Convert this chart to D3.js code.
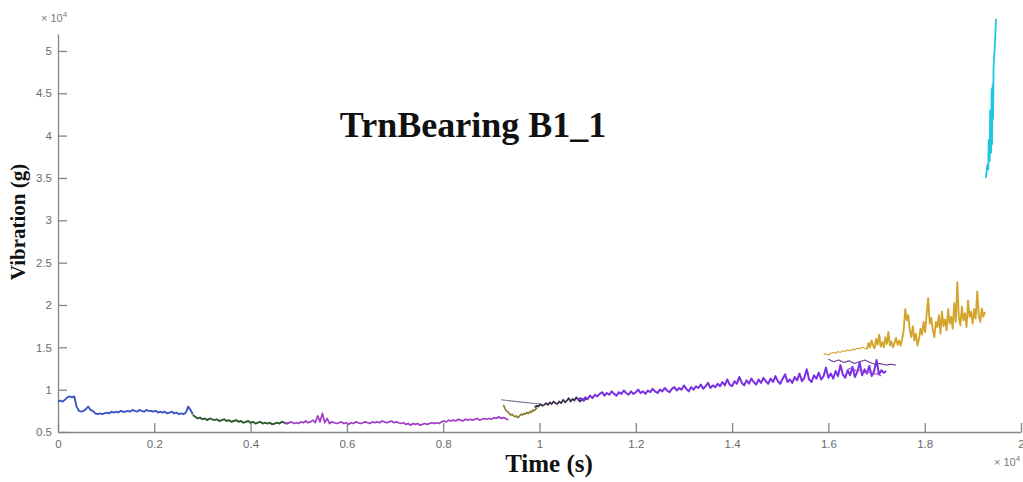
<!DOCTYPE html>
<html>
<head>
<meta charset="utf-8">
<script src="https://cdn.jsdelivr.net/npm/d3@7"></script>
<style>
  body { margin: 0; background: #fff; }
  .axis path, .axis line { stroke: #858585; stroke-width: 1.3; }
  .axis text { fill: #6c6c6c; font: 11.5px "Liberation Sans", Arial, sans-serif; }
  .exp { fill: #7a7a7a; font: 11px "Liberation Sans", Arial, sans-serif; }
  .lbl { font-family: "Liberation Serif", "Times New Roman", serif; font-weight: bold; fill: #111; }
</style>
</head>
<body>
<div id="chart"></div>
<script>
// ticks (x and y both in units of 10^4)
const xTicks = [0, 0.2, 0.4, 0.6, 0.8, 1, 1.2, 1.4, 1.6, 1.8, 2];
const yTicks = [0.5, 1, 1.5, 2, 2.5, 3, 3.5, 4, 4.5, 5];

// each trace: [start time, end time] and samples
const blueSpan = [0, 0.28];
const blueValues = [0.86, 0.87, 0.86, 0.88, 0.91, 0.92, 0.91, 0.92, 0.80, 0.75, 0.74, 0.75, 0.77,
  0.80, 0.76, 0.75, 0.72, 0.71, 0.72, 0.71, 0.72, 0.73, 0.72, 0.74, 0.73, 0.74, 0.73, 0.75, 0.74,
  0.74, 0.75, 0.74, 0.76, 0.75, 0.74, 0.76, 0.75, 0.74, 0.76, 0.75, 0.75, 0.74, 0.75, 0.73, 0.74,
  0.73, 0.74, 0.72, 0.73, 0.74, 0.72, 0.73, 0.71, 0.72, 0.71, 0.73, 0.80, 0.76, 0.71];

const greenSpan = [0.28, 0.48];
const greenValues = [0.70, 0.68, 0.66, 0.67, 0.65, 0.66, 0.64, 0.66, 0.65, 0.64, 0.65, 0.63, 0.64,
  0.65, 0.63, 0.64, 0.62, 0.63, 0.64, 0.62, 0.63, 0.61, 0.62, 0.63, 0.61, 0.62, 0.60, 0.61, 0.62,
  0.60, 0.61, 0.60, 0.61, 0.59, 0.60, 0.61, 0.60, 0.62, 0.61, 0.60, 0.61];

const magentaSpan = [0.47, 0.935];
const magentaValues = [0.61, 0.60, 0.61, 0.62, 0.60, 0.61, 0.60, 0.62, 0.61, 0.63, 0.61, 0.62, 0.64,
  0.61, 0.69, 0.62, 0.72, 0.61, 0.66, 0.60, 0.62, 0.61, 0.60, 0.61, 0.62, 0.60, 0.61, 0.59, 0.61,
  0.60, 0.62, 0.61, 0.60, 0.61, 0.62, 0.61, 0.60, 0.62, 0.61, 0.62, 0.61, 0.63, 0.62, 0.61, 0.62,
  0.63, 0.61, 0.62, 0.61, 0.60, 0.61, 0.59, 0.60, 0.58, 0.60, 0.59, 0.60, 0.58, 0.59, 0.60, 0.59,
  0.60, 0.61, 0.60, 0.61, 0.60, 0.62, 0.63, 0.62, 0.64, 0.63, 0.64, 0.63, 0.65, 0.64, 0.63, 0.65,
  0.64, 0.65, 0.64, 0.65, 0.66, 0.64, 0.65, 0.66, 0.65, 0.66, 0.65, 0.67, 0.66, 0.68, 0.66, 0.67,
  0.66, 0.64];

const oliveSpan = [0.925, 0.995];
const oliveValues = [0.82, 0.78, 0.75, 0.74, 0.72, 0.70, 0.71, 0.69, 0.68, 0.69, 0.67, 0.69, 0.71,
  0.70, 0.72, 0.71, 0.73, 0.72, 0.74, 0.73, 0.76, 0.75, 0.77, 0.79];

const guidePoints = [[0.92, 0.88], [1.0, 0.83]];

const darkSpan = [0.99, 1.1];
const darkValues = [0.79, 0.81, 0.80, 0.83, 0.81, 0.82, 0.84, 0.82, 0.85, 0.83, 0.86, 0.84, 0.83,
  0.86, 0.84, 0.88, 0.85, 0.87, 0.90, 0.86, 0.89, 0.87, 0.91, 0.88, 0.86, 0.89, 0.87, 0.90, 0.88];

const violetSpan = [1.08, 1.72];
const violetValues = [
  0.88, 0.90, 0.87, 0.91, 0.89, 0.93, 0.90, 0.94, 0.92, 0.95,
  0.97, 0.93, 0.96, 0.94, 0.98, 0.95, 0.93, 0.97, 0.95, 0.99,
  0.96, 0.94, 0.98, 0.95, 0.97, 1.00, 0.96, 0.98, 0.95, 0.99,
  0.97, 1.01, 0.98, 0.96, 1.00, 0.98, 1.02, 0.99, 0.97, 1.01,
  1.03, 0.99, 1.02, 1.00, 1.05, 1.01, 0.98, 1.03, 1.00, 1.04,
  1.02, 1.06, 1.01, 1.04, 1.08, 1.02, 1.05, 1.03, 1.07, 1.04,
  1.09, 1.05, 1.12, 1.06, 1.04, 1.10, 1.07, 1.15, 1.08, 1.05,
  1.11, 1.07, 1.13, 1.09, 1.06, 1.12, 1.08, 1.14, 1.10, 1.07,
  1.13, 1.09, 1.16, 1.10, 1.07, 1.13, 1.18, 1.09, 1.12, 1.08,
  1.15, 1.11, 1.19, 1.10, 1.14, 1.24, 1.12, 1.09, 1.17, 1.13,
  1.20, 1.12, 1.16, 1.26, 1.14, 1.19, 1.13, 1.22, 1.16, 1.29,
  1.18, 1.14, 1.23, 1.17, 1.27, 1.15, 1.21, 1.32, 1.17, 1.24,
  1.19, 1.28, 1.16, 1.22, 1.35, 1.18, 1.23, 1.20, 1.22];

const thinUpperSpan = [1.6, 1.74];
const thinUpperValues = [1.36, 1.33, 1.35, 1.32, 1.34, 1.31, 1.33, 1.35, 1.32, 1.30, 1.31, 1.29, 1.30, 1.29];

const thinLowerSpan = [1.64, 1.71];
const thinLowerValues = [1.24, 1.26, 1.22, 1.23, 1.20, 1.21, 1.18, 1.19, 1.16];

const goldLeadSpan = [1.59, 1.68];
const goldLeadValues = [1.42, 1.42, 1.41, 1.43, 1.44, 1.43, 1.45, 1.44, 1.46, 1.45, 1.47, 1.46,
  1.48, 1.47, 1.49, 1.48, 1.50, 1.49, 1.48];

const goldSpan = [1.68, 1.925];
const goldValues = [1.48, 1.55, 1.50, 1.58, 1.52, 1.49, 1.60, 1.53, 1.65, 1.51, 1.56, 1.50, 1.62,
  1.54, 1.68, 1.52, 1.57, 1.50, 1.55, 1.61, 1.53, 1.58, 1.52, 1.60, 1.70, 1.95, 1.82, 1.88, 1.70,
  1.62, 1.75, 1.58, 1.66, 1.52, 1.60, 1.72, 1.65, 1.80, 1.68, 1.90, 2.08, 1.78, 1.85, 1.70, 1.62,
  1.80, 1.74, 1.88, 1.66, 1.92, 1.75, 1.83, 1.70, 1.95, 1.78, 1.86, 1.72, 2.02, 1.80, 2.27, 1.85,
  1.76, 1.98, 1.82, 1.90, 1.74, 2.05, 1.86, 1.92, 1.78, 1.95, 1.84, 2.16, 1.88, 1.80, 1.96, 1.86, 1.92];

const cyanPoints = [[1.927, 3.50], [1.930, 3.65], [1.932, 3.60], [1.933, 3.95], [1.935, 3.70],
  [1.936, 4.30], [1.938, 3.80], [1.939, 4.55], [1.940, 3.90], [1.941, 4.60], [1.942, 4.20],
  [1.943, 4.80], [1.946, 5.10], [1.948, 5.38]];

const spread = (span, values) =>
  values.map((v, i) => [span[0] + (span[1] - span[0]) * i / (values.length - 1), v]);

const traces = [
  { pts: spread(blueSpan, blueValues), color: "#3b57c2", w: 1.9 },
  { pts: spread(greenSpan, greenValues), color: "#2d5a2d", w: 1.9 },
  { pts: spread(magentaSpan, magentaValues), color: "#a03cc6", w: 1.7 },
  { pts: guidePoints, color: "#7c6f98", w: 1.1 },
  { pts: spread(oliveSpan, oliveValues), color: "#8a7a2a", w: 1.6 },
  { pts: spread(darkSpan, darkValues), color: "#3a2a4a", w: 1.7 },
  { pts: spread(violetSpan, violetValues), color: "#7a2fe4", w: 2 },
  { pts: spread(thinUpperSpan, thinUpperValues), color: "#6a3a9a", w: 1.1 },
  { pts: spread(thinLowerSpan, thinLowerValues), color: "#9a48d8", w: 1.1 },
  { pts: spread(goldLeadSpan, goldLeadValues), color: "#d4a52c", w: 1.1 },
  { pts: spread(goldSpan, goldValues), color: "#d4a52c", w: 1.9 },
  { pts: cyanPoints, color: "#1ec6de", w: 1.8 },
];

const width = 1023, height = 482;
const x = d3.scaleLinear().domain([0, 2]).range([58, 1021]);
const y = d3.scaleLinear().domain([0.5, 5.2]).range([432, 34]);

const svg = d3.select("#chart").append("svg")
  .attr("width", width).attr("height", height);

svg.append("g").attr("class", "axis")
  .attr("transform", `translate(0,${y(0.5)})`)
  .call(d3.axisBottom(x).tickValues(xTicks).tickFormat(String)
    .tickSizeInner(-9).tickSizeOuter(0).tickPadding(8));

svg.append("g").attr("class", "axis")
  .attr("transform", `translate(${x(0)},0)`)
  .call(d3.axisLeft(y).tickValues(yTicks).tickFormat(String)
    .tickSizeInner(-9).tickSizeOuter(0).tickPadding(6));

// exponent labels
const exp = (px, py) => {
  const t = svg.append("text").attr("class", "exp").attr("x", px).attr("y", py);
  t.append("tspan").text("\u00d7 10");
  t.append("tspan").attr("dy", -5).attr("font-size", 8).text("4");
};
exp(41, 22);
exp(994, 466);

const line = d3.line().x(d => x(d[0])).y(d => y(d[1]));
svg.append("g").selectAll("path").data(traces).join("path")
  .attr("d", d => line(d.pts))
  .attr("fill", "none")
  .attr("stroke", d => d.color)
  .attr("stroke-width", d => d.w)
  .attr("stroke-linejoin", "round");

svg.append("text").attr("class", "lbl")
  .attr("x", 473).attr("y", 137).attr("text-anchor", "middle")
  .attr("font-size", 36).text("TrnBearing B1_1");

svg.append("text").attr("class", "lbl")
  .attr("x", 549).attr("y", 472).attr("text-anchor", "middle")
  .attr("font-size", 25).text("Time (s)");

svg.append("text").attr("class", "lbl")
  .attr("transform", "translate(25,222) rotate(-90)")
  .attr("text-anchor", "middle")
  .attr("font-size", 21).text("Vibration (g)");
</script>
</body>
</html>
